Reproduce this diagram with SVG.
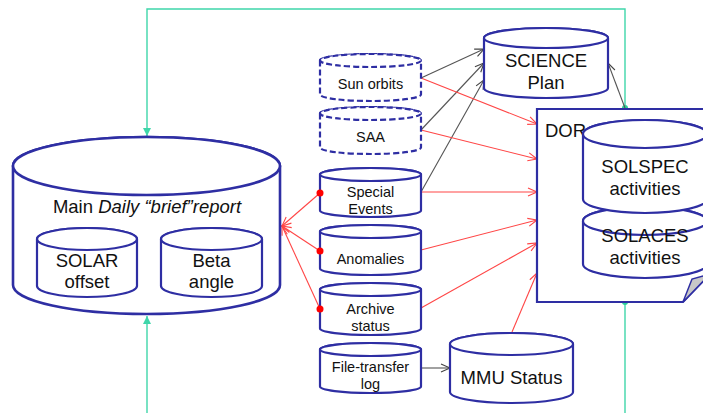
<svg xmlns="http://www.w3.org/2000/svg" width="703" height="413" viewBox="0 0 703 413">
<style>
.cyl{fill:#fff;stroke:#2e2ea3;stroke-width:2.2}
.cylb{fill:#fff;stroke:#2e2ea3;stroke-width:2.6}
.dash{fill:#fff;stroke:#2e2ea3;stroke-width:2.2;stroke-dasharray:6 3}
text{font-family:"Liberation Sans",Arial,sans-serif;fill:#111;text-anchor:middle}
.big{font-size:18.5px}
.sm{font-size:14.5px}
.red{stroke:#ff4646;stroke-width:1.1;fill:none}
.blk{stroke:#555;stroke-width:1.1;fill:none}
.teal{stroke:#3fd6aa;stroke-width:1.4;fill:none}
</style>
<defs>
<marker id="ar" markerWidth="12" markerHeight="12" refX="10" refY="5" orient="auto" markerUnits="userSpaceOnUse"><path d="M1,1 L10,5 L1,9" fill="none" stroke="#ff4646" stroke-width="1.1"/></marker>
<marker id="ab" markerWidth="12" markerHeight="12" refX="10" refY="5" orient="auto" markerUnits="userSpaceOnUse"><path d="M1,1 L10,5 L1,9" fill="none" stroke="#444" stroke-width="1.1"/></marker>
<marker id="at" markerWidth="10" markerHeight="10" refX="8" refY="4" orient="auto" markerUnits="userSpaceOnUse"><path d="M0,0 L8,4 L0,8 Z" fill="#3fd6aa"/></marker>
</defs>

<g id="connectors">
<polyline class="teal" points="147,413 147,316" marker-end="url(#at)"/>
<polyline class="teal" points="625,108 625,9 147,9 147,136" marker-end="url(#at)"/>
<line class="teal" x1="625" y1="302" x2="625" y2="413"/>
<circle cx="625" cy="108" r="3" fill="#2fcf9a"/>
<circle cx="625" cy="302" r="3" fill="#2fcf9a"/>
<line class="blk" x1="421" y1="78" x2="484" y2="49" marker-end="url(#ab)"/>
<line class="blk" x1="421" y1="130" x2="484" y2="63" marker-end="url(#ab)"/>
<line class="blk" x1="421" y1="192" x2="484" y2="80" marker-end="url(#ab)"/>
<line class="blk" x1="625" y1="108" x2="608" y2="63" marker-end="url(#ab)"/>
<line class="blk" x1="421" y1="368" x2="450" y2="368" marker-end="url(#ab)"/>
<line class="red" x1="421" y1="78" x2="537" y2="124" marker-end="url(#ar)"/>
<line class="red" x1="421" y1="130" x2="537" y2="159" marker-end="url(#ar)"/>
<line class="red" x1="421" y1="192" x2="537" y2="192" marker-end="url(#ar)"/>
<line class="red" x1="421" y1="250" x2="537" y2="220" marker-end="url(#ar)"/>
<line class="red" x1="421" y1="308" x2="537" y2="243" marker-end="url(#ar)"/>
<line class="red" x1="512" y1="332" x2="537" y2="273" marker-end="url(#ar)"/>
<line class="red" x1="320" y1="193" x2="282" y2="226" marker-end="url(#ar)"/>
<line class="red" x1="320" y1="251" x2="282" y2="226" marker-end="url(#ar)"/>
<line class="red" x1="320" y1="309" x2="282" y2="226" marker-end="url(#ar)"/>
</g>

<g id="main">
<path class="cylb" d="M13,166 V285 A133.5,29 0 0 0 280,285 V166 A133.5,29 0 0 0 13,166 Z"/>
<ellipse class="cylb" cx="146.5" cy="166" rx="133.5" ry="29"/>
<text class="big" x="147" y="213">Main <tspan font-style="italic">Daily “brief”report</tspan></text>
</g>
<g id="solar">
<path class="cyl" d="M37,239 V286 A50,11 0 0 0 137,286 V239 A50,11 0 0 0 37,239 Z"/>
<ellipse class="cyl" cx="87" cy="239" rx="50" ry="11"/>
<text class="big" x="87" y="267">SOLAR</text>
<text class="big" x="87" y="288">offset</text>
</g>
<g id="beta">
<path class="cyl" d="M161,239 V286 A50.5,11 0 0 0 262,286 V239 A50.5,11 0 0 0 161,239 Z"/>
<ellipse class="cyl" cx="211.5" cy="239" rx="50.5" ry="11"/>
<text class="big" x="211.5" y="267">Beta</text>
<text class="big" x="211.5" y="288">angle</text>
</g>

<g id="sunorbits">
<path class="dash" d="M320,60.5 V94.5 A50.5,6.5 0 0 0 421,94.5 V60.5 A50.5,6.5 0 0 0 320,60.5 Z"/>
<ellipse class="dash" cx="370.5" cy="60.5" rx="50.5" ry="6.5"/>
<text class="sm" x="370.5" y="89">Sun orbits</text>
</g>
<g id="saa">
<path class="dash" d="M320,113.5 V147.5 A50.5,6.5 0 0 0 421,147.5 V113.5 A50.5,6.5 0 0 0 320,113.5 Z"/>
<ellipse class="dash" cx="370.5" cy="113.5" rx="50.5" ry="6.5"/>
<text class="sm" x="370.5" y="142">SAA</text>
</g>
<g id="special">
<path class="cyl" d="M320,174.5 V210.5 A50.5,6.5 0 0 0 421,210.5 V174.5 A50.5,6.5 0 0 0 320,174.5 Z"/>
<ellipse class="cyl" cx="370.5" cy="174.5" rx="50.5" ry="6.5"/>
<text class="sm" x="370.5" y="197">Special</text>
<text class="sm" x="370.5" y="214">Events</text>
<circle cx="320" cy="193" r="3.5" fill="#ff0000"/>
</g>
<g id="anomalies">
<path class="cyl" d="M320,231.5 V268.5 A50.5,6.5 0 0 0 421,268.5 V231.5 A50.5,6.5 0 0 0 320,231.5 Z"/>
<ellipse class="cyl" cx="370.5" cy="231.5" rx="50.5" ry="6.5"/>
<text class="sm" x="370.5" y="264">Anomalies</text>
<circle cx="320" cy="251" r="3.5" fill="#ff0000"/>
</g>
<g id="archive">
<path class="cyl" d="M320,289.5 V328.5 A50.5,6.5 0 0 0 421,328.5 V289.5 A50.5,6.5 0 0 0 320,289.5 Z"/>
<ellipse class="cyl" cx="370.5" cy="289.5" rx="50.5" ry="6.5"/>
<text class="sm" x="370.5" y="314">Archive</text>
<text class="sm" x="370.5" y="331">status</text>
<circle cx="320" cy="309" r="3.5" fill="#ff0000"/>
</g>
<g id="filetransfer">
<path class="cyl" d="M320,349.5 V386.5 A50.5,6.5 0 0 0 421,386.5 V349.5 A50.5,6.5 0 0 0 320,349.5 Z"/>
<ellipse class="cyl" cx="370.5" cy="349.5" rx="50.5" ry="6.5"/>
<text class="sm" x="370.5" y="372">File-transfer</text>
<text class="sm" x="370.5" y="389">log</text>
</g>

<g id="science">
<path class="cyl" d="M484,38 V88 A62,10 0 0 0 608,88 V38 A62,10 0 0 0 484,38 Z"/>
<ellipse class="cyl" cx="546" cy="38" rx="62" ry="10"/>
<text class="big" x="546" y="67">SCIENCE</text>
<text class="big" x="546" y="89">Plan</text>
</g>
<g id="mmu">
<path class="cyl" d="M450,344 V392 A61.5,11 0 0 0 573,392 V344 A61.5,11 0 0 0 450,344 Z"/>
<ellipse class="cyl" cx="511.5" cy="344" rx="61.5" ry="11"/>
<text class="big" x="511.5" y="384">MMU Status</text>
</g>

<g id="dor">
<path class="cyl" d="M537,109 H710 V274 L683,302 H537 Z"/>
<polygon points="683,302 692,279 710,274" fill="#c8c8c8" stroke="#2e2ea3" stroke-width="1.5"/>
<text class="big" x="545" y="137" style="text-anchor:start">DOR</text>
</g>
<g id="solaces">
<path class="cyl" d="M583,221 V264 A62,14 0 0 0 707,264 V221 A62,14 0 0 0 583,221 Z"/>
<ellipse class="cyl" cx="645" cy="221" rx="62" ry="14"/>
<text class="big" x="645" y="242">SOLACES</text>
<text class="big" x="645" y="264">activities</text>
</g>
<g id="solspec">
<path class="cyl" d="M583,134 V199 A62,14 0 0 0 707,199 V134 A62,14 0 0 0 583,134 Z"/>
<ellipse class="cyl" cx="645" cy="134" rx="62" ry="14"/>
<text class="big" x="645" y="173">SOLSPEC</text>
<text class="big" x="645" y="195">activities</text>
</g>
</svg>
